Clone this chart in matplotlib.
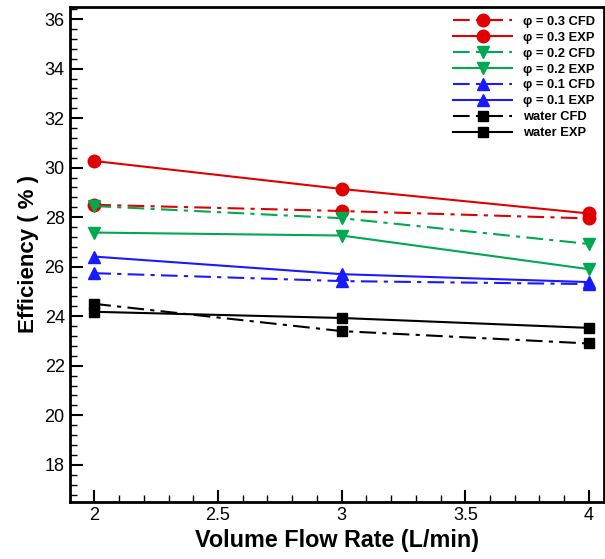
import matplotlib
matplotlib.use("Agg")
import matplotlib.pyplot as plt
from matplotlib.ticker import MultipleLocator, FormatStrFormatter

plt.rcParams['font.family'] = ['Liberation Sans', 'DejaVu Sans']

# flow rates (L/min)
flow = [2, 3, 4]

# efficiency (%) per case
phi03_cfd = [28.5, 28.25, 27.95]
phi03_exp = [30.27, 29.14, 28.15]
phi02_cfd = [28.45, 27.96, 26.92]
phi02_exp = [27.38, 27.26, 25.9]
phi01_cfd = [25.74, 25.42, 25.3]
phi01_exp = [26.41, 25.7, 25.38]
water_cfd = [24.5, 23.4, 22.9]
water_exp = [24.18, 23.93, 23.53]

labels = ["φ = 0.3 CFD", "φ = 0.3 EXP", "φ = 0.2 CFD", "φ = 0.2 EXP",
          "φ = 0.1 CFD", "φ = 0.1 EXP", "water CFD", "water EXP"]

red = "#E00000"
green = "#00A850"
blue = "#1A1AFF"
black = "#000000"
dashdot = (0, (8, 3, 2, 3))

fig = plt.figure(figsize=(6.05, 5.59), dpi=100)
ax = fig.add_axes([0.115, 0.102, 0.883, 0.886])

series = [
    (phi03_cfd, red, dashdot, "o", 9),
    (phi03_exp, red, "-", "o", 9),
    (phi02_cfd, green, dashdot, "v", 8),
    (phi02_exp, green, "-", "v", 8),
    (phi01_cfd, blue, dashdot, "^", 8),
    (phi01_exp, blue, "-", "^", 8),
    (water_cfd, black, dashdot, "s", 7),
    (water_exp, black, "-", "s", 7),
]
for (vals, c, ls, mk, ms), lab in zip(series, labels):
    ax.plot(flow, vals, color=c, linestyle=ls, linewidth=1.5, marker=mk,
            markersize=ms, label=lab)

ax.set_xlim(1.9, 4.06)
ax.set_ylim(16.5, 36.5)
ax.xaxis.set_major_locator(MultipleLocator(0.5))
ax.xaxis.set_minor_locator(MultipleLocator(0.1))
ax.xaxis.set_major_formatter(FormatStrFormatter("%g"))
ax.yaxis.set_major_locator(MultipleLocator(2))
ax.yaxis.set_minor_locator(MultipleLocator(0.4))
ax.tick_params(which="both", direction="in", top=False, right=False,
               labelsize=13, width=1.5)
ax.tick_params(which="major", length=9)
ax.tick_params(which="minor", length=5, width=1)
for s in ax.spines.values():
    s.set_linewidth(2)

ax.set_xlabel("Volume Flow Rate (L/min)", fontsize=16.8, fontweight="bold")
ax.set_ylabel("Efficiency ( % )", fontsize=16, fontweight="bold")

ax.legend(loc="upper right", frameon=False, handlelength=4.6,
          handletextpad=0.8, prop={"weight": "bold", "size": 9.3},
          labelspacing=0.3, borderaxespad=0.3)

fig.savefig("out.png", dpi=100)
